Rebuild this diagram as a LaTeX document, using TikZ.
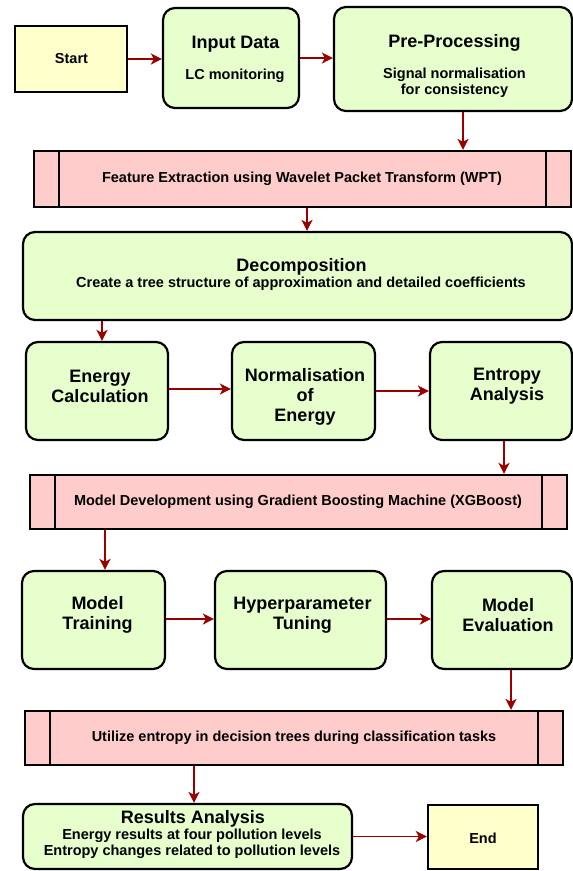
\documentclass[tikz,border=0pt]{standalone}
\usepackage{fontspec}
\setmainfont{Liberation Sans}
\usetikzlibrary{arrows.meta}
\definecolor{boxgreen}{HTML}{E6FFCC}
\definecolor{termyellow}{HTML}{FFFFCC}
\definecolor{barpink}{HTML}{FFCCCC}
\definecolor{arrowred}{HTML}{990000}

\begin{document}
\begin{tikzpicture}[x=1pt,y=-1pt]

    \tikzset{
      stepbox/.style={draw=black, line width=2.2pt, rounded corners=12pt, fill=boxgreen, inner sep=0pt},
      termbox/.style={draw=black, line width=2.4pt, fill=termyellow, inner sep=0pt},
      barbox/.style={draw=black, line width=2.2pt, fill=barpink, inner sep=0pt,
        path picture={
          \draw[line width=2.2pt] ([xshift=25pt]path picture bounding box.north west) -- ([xshift=25pt]path picture bounding box.south west);
          \draw[line width=2.2pt] ([xshift=-25pt]path picture bounding box.north east) -- ([xshift=-25pt]path picture bounding box.south east);
        }},
      head/.style={font=\bfseries\fontsize{18}{20}\selectfont, align=center, inner sep=0pt},
      subtext/.style={font=\bfseries\fontsize{14.5}{16}\selectfont, align=center, inner sep=0pt},
      bartext/.style={font=\bfseries\fontsize{14.5}{16}\selectfont, inner sep=0pt},
      arr/.style={draw=arrowred, line width=1.8pt, -{Stealth[length=11pt,width=11pt,inset=3pt]}},
    }
    \useasboundingbox (0,0) rectangle (573,871);

    \node[termbox, minimum width=112pt, minimum height=66pt] (start) at (71,59) {};
    \node[stepbox, minimum width=136pt, minimum height=100pt] (input) at (231,58) {};
    \node[stepbox, minimum width=238pt, minimum height=104pt] (pre) at (453,59) {};
    \node[barbox, minimum width=537pt, minimum height=56pt] (feat) at (302.5,179) {};
    \node[stepbox, minimum width=549pt, minimum height=88pt] (decomp) at (297.5,276) {};
    \node[stepbox, minimum width=142pt, minimum height=98pt] (energy) at (97,391) {};
    \node[stepbox, minimum width=143pt, minimum height=98pt] (norm) at (303.5,391) {};
    \node[stepbox, minimum width=142pt, minimum height=98pt] (entropy) at (501,391) {};
    \node[barbox, minimum width=537pt, minimum height=54pt] (mdev) at (298.5,502) {};
    \node[stepbox, minimum width=143pt, minimum height=98pt] (train) at (93.5,620) {};
    \node[stepbox, minimum width=171pt, minimum height=98pt] (hyper) at (300.5,620) {};
    \node[stepbox, minimum width=140pt, minimum height=98pt] (eval) at (502,620) {};
    \node[barbox, minimum width=538pt, minimum height=54pt] (util) at (294,738) {};
    \node[stepbox, minimum width=329pt, minimum height=65pt] (results) at (187.5,836.5) {};
    \node[termbox, minimum width=110pt, minimum height=64pt] (endbox) at (483,837) {};

    \node[subtext] (start-t) at (71.5,59) {Start};
    \node[head] (input-h) at (235.5,44) {Input Data};
    \node[subtext] (input-s) at (235,76) {LC monitoring};
    \node[head] (pre-h) at (454.5,43) {Pre-Processing};
    \node[subtext] (pre-s) at (454.5,83) {Signal normalisation\\for consistency};
    \node[bartext] (feat-t) at (302,179) {Feature Extraction using Wavelet Packet Transform (WPT)};
    \node[head] (decomp-h) at (301.5,267) {Decomposition};
    \node[bartext] (decomp-s) at (301,284) {Create a tree structure of approximation and detailed coefficients};
    \node[head] (energy-t) at (100,386) {Energy\\Calculation};
    \node[head] (norm-t) at (305,396.5) {Normalisation\\of\\Energy};
    \node[head] (entropy-t) at (507,386) {Entropy\\Analysis};
    \node[bartext] (mdev-t) at (298,502) {Model Development using Gradient Boosting Machine (XGBoost)};
    \node[head] (train-t) at (97.5,615) {Model\\Training};
    \node[head] (hyper-t) at (302.5,615) {Hyperparameter\\Tuning};
    \node[head] (eval-t) at (508,615) {Model\\Evaluation};
    \node[bartext] (util-t) at (294,738) {Utilize entropy in decision trees during classification tasks};
    \node[head] (results-h) at (193,819) {Results Analysis};
    \node[subtext] (results-s) at (192,844) {Energy results at four pollution levels\\Entropy changes related to pollution levels};
    \node[subtext] (end-t) at (483,838) {End};

    \draw[arr] (start.east) -- (start.east -| input.west);
    \draw[arr] (input.east) -- (input.east -| pre.west);
    \draw[arr] ([xshift=10pt]pre.south) -- ([xshift=10pt]pre.south |- feat.north);
    \draw[arr] ([xshift=4.5pt]feat.south) -- ([xshift=4.5pt]feat.south |- decomp.north);
    \draw[arr] ([xshift=5pt]energy.north |- decomp.south) -- ([xshift=5pt]energy.north);
    \draw[arr] ([yshift=2pt]energy.east) -- ([yshift=2pt]energy.east -| norm.west);
    \draw[arr] (norm.east) -- (norm.east -| entropy.west);
    \draw[arr] ([xshift=3pt]entropy.south) -- ([xshift=3pt]entropy.south |- mdev.north);
    \draw[arr] ([xshift=11.5pt]train.north |- mdev.south) -- ([xshift=11.5pt]train.north);
    \draw[arr] ([yshift=1pt]train.east) -- ([yshift=1pt]train.east -| hyper.west);
    \draw[arr] ([yshift=1pt]hyper.east) -- ([yshift=1pt]hyper.east -| eval.west);
    \draw[arr] ([xshift=9pt]eval.south) -- ([xshift=9pt]eval.south |- util.north);
    \draw[arr] ([xshift=6.5pt]results.north |- util.south) -- ([xshift=6.5pt]results.north);
    \draw[arr] (results.east) -- (results.east -| endbox.west);

\end{tikzpicture}
\end{document}
